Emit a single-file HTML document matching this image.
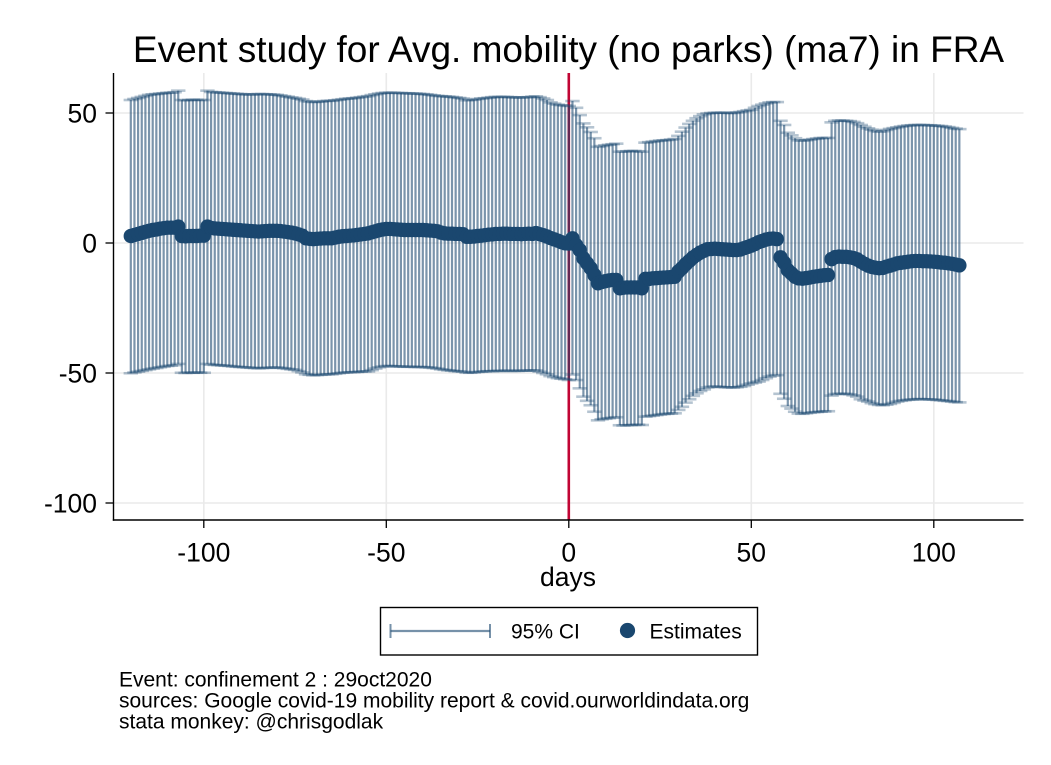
<!DOCTYPE html>
<html lang="en">
<head>
<meta charset="utf-8">
<title>Event study for Avg. mobility (no parks) (ma7) in FRA</title>
<style>
html,body{margin:0;padding:0;background:#fff;width:1051px;height:765px;overflow:hidden}
svg{display:block;font-family:"Liberation Sans",Arial,sans-serif}
text{fill:#000}
</style>
</head>
<body>
<svg id="chart" xmlns="http://www.w3.org/2000/svg" width="1051" height="765" viewBox="0 0 1051 765">
  <rect x="0" y="0" width="1051" height="765" fill="#fff"/>
  <text x="568.5" y="62" text-anchor="middle" font-size="37">Event study for Avg. mobility (no parks) (ma7) in FRA</text>
  <g id="grid"></g>
  <line id="eventLine" stroke="#c10534" stroke-width="2.6"></line>
  <g id="bars"></g>
  <g id="points"></g>
  <g id="axes"></g>
  <text x="568" y="586" text-anchor="middle" font-size="26.5">days</text>
  <g>
    <rect x="380.5" y="607.5" width="377" height="47.5" fill="#fff" stroke="#000" stroke-width="1.4"/>
    <g>
      <line x1="390.5" y1="631" x2="490" y2="631" stroke="#1a476f" stroke-opacity="0.6" stroke-width="2.2"/>
      <line x1="390.5" y1="624" x2="390.5" y2="638" stroke="#1a476f" stroke-opacity="0.6" stroke-width="2"/>
      <line x1="490" y1="624" x2="490" y2="638" stroke="#1a476f" stroke-opacity="0.6" stroke-width="2"/>
      <text x="511" y="638.5" font-size="21">95% CI</text>
    </g>
    <g>
      <circle cx="627.5" cy="630.5" r="7.6" fill="#1a476f"/>
      <text x="649.5" y="638.5" font-size="21">Estimates</text>
    </g>
  </g>
  <g font-size="21">
    <text x="119" y="686.5">Event: confinement 2 : 29oct2020</text>
    <text x="119" y="707.5">sources: Google covid-19 mobility report &amp; covid.ourworldindata.org</text>
    <text x="119" y="728.5">stata monkey: @chrisgodlak</text>
  </g>
</svg>
<script>
const days = [
-120,-119,-118,-117,-116,-115,-114,-113,-112,-111,-110,-109,-108,-107,
-106,-105,-104,-103,-102,-101,-100,
-99,-98,-97,-96,-95,-94,-93,-92,-91,-90,
-89,-88,-87,-86,-85,-84,-83,-82,-81,-80,
-79,-78,-77,-76,-75,-74,-73,-72,-71,-70,
-69,-68,-67,-66,-65,-64,-63,-62,-61,-60,
-59,-58,-57,-56,-55,-54,-53,-52,-51,-50,
-49,-48,-47,-46,-45,-44,-43,-42,-41,-40,
-39,-38,-37,-36,-35,-34,-33,-32,-31,-30,
-29,-28,-27,-26,-25,-24,-23,-22,-21,-20,
-19,-18,-17,-16,-15,-14,-13,-12,-11,-10,
-9,-8,-7,-6,-5,-4,-3,-2,-1,0,
1,2,3,4,5,6,7,8,9,10,
11,12,13,14,15,16,17,18,19,20,
21,22,23,24,25,26,27,28,29,30,
31,32,33,34,35,36,37,38,39,40,
41,42,43,44,45,46,47,48,49,50,
51,52,53,54,55,56,57,
58,59,60,61,62,63,64,65,66,67,68,69,70,71,
72,73,74,75,76,77,78,79,80,
81,82,83,84,85,86,87,88,89,90,
91,92,93,94,95,96,97,98,99,100,
101,102,103,104,105,106,107];

const estimates = [
2.7,3.1,3.5,3.9,4.3,4.7,5.0,5.2,5.5,5.7,5.9,5.9,5.9,6.3,
2.7,2.6,2.7,2.7,2.7,2.8,2.8,
6.3,5.8,5.6,5.5,5.4,5.3,5.2,5.1,5.0,4.9,
4.8,4.7,4.6,4.5,4.4,4.5,4.6,4.7,4.7,4.7,
4.6,4.4,4.2,4.0,3.7,3.3,2.8,1.8,1.6,1.5,
1.6,1.7,1.8,1.8,1.8,2.1,2.4,2.6,2.7,2.8,
2.9,3.1,3.3,3.5,3.7,4.1,4.5,4.9,5.2,5.4,
5.4,5.3,5.2,5.1,5.0,5.0,5.0,5.0,5.0,5.0,
4.9,4.8,4.7,4.5,4.0,3.7,3.6,3.6,3.5,3.5,
3.4,2.4,2.4,2.5,2.7,2.8,3.0,3.2,3.3,3.5,
3.5,3.6,3.6,3.5,3.5,3.5,3.4,3.5,3.6,3.5,
3.8,3.4,3.0,2.5,1.9,1.4,0.9,0.3,-0.1,-0.2,
1.8,-0.8,-2.7,-5.9,-7.8,-9.7,-12.3,-15.5,-15,-14.7,
-14.4,-14.2,-14.2,-17.4,-17.2,-17.1,-17.1,-17.1,-17.1,-17.4,
-13.8,-13.8,-13.6,-13.5,-13.4,-13.3,-13.2,-13.1,-13,-11,
-9.7,-8.2,-6.9,-5.6,-4.6,-3.7,-3,-2.4,-2.3,-2.2,
-2.3,-2.4,-2.5,-2.6,-2.7,-2.7,-2.5,-2,-1.5,-1,
-0.4,0.3,0.8,1.3,1.6,1.7,1.5,
-5.5,-7.6,-10.4,-11.7,-13,-13.6,-13.7,-13.5,-13.3,-13,-12.8,-12.6,-12.4,-12.3,
-6.2,-5.4,-5.2,-5.3,-5.3,-5.5,-5.8,-6.3,-7.2,
-8,-8.7,-9.2,-9.5,-9.7,-9.6,-9.1,-8.7,-8.3,-7.8,
-7.6,-7.4,-7.2,-7,-6.9,-6.9,-7,-7,-7.1,-7.2,
-7.3,-7.5,-7.6,-7.8,-8,-8.3,-8.6];

const ciUpper = [
55,55.4,55.8,56.2,56.6,57,57.2,57.3,57.5,57.6,57.8,57.8,58,58.6,
55,54.9,55,55.1,55.1,55,55,
58.6,58.1,58,57.9,57.8,57.7,57.6,57.5,57.4,57.3,
57.2,57.2,57.1,57.2,57.3,57.3,57.2,57.2,57.1,57,
56.8,56.5,56.3,56,55.8,55.5,55.2,54.6,54.4,54.2,
54.3,54.4,54.6,54.7,54.7,54.9,55.1,55.3,55.5,55.6,
55.7,55.9,56.1,56.3,56.5,56.9,57.2,57.5,57.7,57.8,
57.8,57.8,57.7,57.7,57.6,57.6,57.5,57.5,57.4,57.3,
57.2,57,56.8,56.6,56.5,56.4,56.3,56.2,56,55.8,
55.6,54.9,55,55.1,55.4,55.6,55.7,55.9,56.1,56.2,
56.2,56.2,56.2,56.1,56,56,56,56,56.1,56.3,
56.4,56.1,55.6,55,54.1,53.6,53.2,53,52.9,52.7,
54.6,52,49.2,46,44.5,42.7,40.3,37,37.3,37.6,
37.8,38,38.2,35.1,35.2,35.3,35.4,35.4,35.3,35.1,
38.6,38.8,39,39.2,39.4,39.5,39.6,39.8,40,41.2,
42.8,44.4,45.8,47,48,48.8,49.5,49.9,50,50.1,
50.1,50.1,50.1,50,50,50.2,50.4,50.7,51,51.2,
52,52.7,53.2,53.7,54.1,54.2,54.2,
47,45.4,42.4,41.4,40.3,39.5,39.4,39.5,39.8,40,40.2,40.4,40.4,40.4,
46.4,47,47.1,47.1,47,46.9,46.6,46.1,45.4,
44.7,44.1,43.6,43.1,42.8,43,43.5,43.9,44.2,44.5,
44.8,45,45.2,45.3,45.4,45.4,45.4,45.3,45.3,45.2,
45.1,45,44.8,44.6,44.3,44,43.8];

const ciLower = [
-50.1,-49.8,-49.5,-49.2,-48.9,-48.6,-48.3,-48.1,-47.8,-47.6,-47.3,-47.2,-47,-46.5,
-49.9,-50,-49.9,-49.9,-49.8,-49.9,-49.9,
-46.5,-46.8,-46.9,-47,-47.1,-47.2,-47.3,-47.5,-47.6,-47.7,
-47.8,-47.9,-48,-48.1,-48.2,-48.1,-48,-48,-47.9,-47.9,
-48,-48.2,-48.4,-48.6,-48.8,-49.3,-49.8,-50.5,-50.7,-50.9,
-50.8,-50.7,-50.6,-50.5,-50.5,-50.3,-50.1,-49.9,-49.8,-49.7,
-49.7,-49.6,-49.5,-49.4,-49.4,-48.9,-48.3,-47.8,-47.5,-47.3,
-47.3,-47.4,-47.5,-47.5,-47.6,-47.6,-47.6,-47.7,-47.7,-47.7,
-47.8,-47.9,-48.1,-48.3,-48.6,-48.8,-49,-49.1,-49.3,-49.4,
-49.5,-49.9,-49.9,-49.8,-49.6,-49.5,-49.4,-49.3,-49.3,-49.2,
-49.2,-49.2,-49.1,-49.2,-49.2,-49.2,-49.1,-49.1,-49.1,-49,
-49,-49.5,-50,-50.5,-51.2,-51.6,-52,-52.2,-52.4,-52.7,
-50.6,-52.7,-55.9,-59.1,-60.7,-62.4,-64.9,-68.2,-67.8,-67.6,
-67.4,-67.2,-67,-70.1,-70.2,-70.1,-70,-70,-69.9,-70,
-66.8,-66.6,-66.4,-66.2,-66,-65.8,-65.7,-65.6,-65.5,-64.2,
-63,-61.4,-60.1,-58.8,-57.8,-56.9,-56.3,-55.6,-55.3,-55.2,
-55.3,-55.4,-55.5,-55.5,-55.6,-55.5,-55.3,-55,-54.5,-54,
-53.7,-53.3,-52.7,-52,-51.4,-51,-50.8,
-58,-59.9,-62.7,-63.7,-64.9,-65.6,-65.7,-65.5,-65.3,-65.1,-65,-64.9,-64.8,-64.7,
-58.7,-58.1,-58,-58,-58,-58.2,-58.6,-59.1,-60.1,
-60.6,-61,-61.6,-62,-62.3,-62.4,-62.2,-61.9,-61.5,-61,
-60.7,-60.5,-60.3,-60.2,-60.1,-60,-60.1,-60.1,-60.2,-60.2,
-60.4,-60.5,-60.7,-60.8,-61,-61.2,-61.3];

const xTicks = [-100,-50,0,50,100];
const yTicks = [50,0,-50,-100];
const eventDay = 0;

const NS = 'http://www.w3.org/2000/svg';
const xScale = function (d) { return 568.8 + d * 3.65; };
const yScale = function (v) { return 243 - v * 2.6; };
const plotLeft = 113.5, plotRight = 1023.5, plotTop = 73, plotBottom = 520;

function make(tag, attrs, parent) {
  const el = document.createElementNS(NS, tag);
  for (const k in attrs) el.setAttribute(k, attrs[k]);
  parent.appendChild(el);
  return el;
}

const grid = document.getElementById('grid');
const axes = document.getElementById('axes');
const bars = document.getElementById('bars');
const points = document.getElementById('points');

xTicks.forEach(function (t) {
  const g = make('line', {x1: xScale(t), x2: xScale(t), y1: plotTop, y2: plotBottom, stroke: '#eaeaea', 'stroke-width': 1.6}, grid);
  
  
  const tick = make('line', {x1: xScale(t), x2: xScale(t), y1: plotBottom, y2: plotBottom + 8, stroke: '#000', 'stroke-width': 1.3}, axes);
  
  
  const lab = make('text', {x: xScale(t), y: 561.5, 'text-anchor': 'middle', 'font-size': 26.5}, axes);
  
  
  lab.textContent = String(t);
});

yTicks.forEach(function (t) {
  const g = make('line', {x1: plotLeft, x2: plotRight, y1: yScale(t), y2: yScale(t), stroke: '#eaeaea', 'stroke-width': 1.6}, grid);
  
  
  const tick = make('line', {x1: plotLeft - 8, x2: plotLeft, y1: yScale(t), y2: yScale(t), stroke: '#000', 'stroke-width': 1.3}, axes);
  
  
  const lab = make('text', {x: 97, y: yScale(t) + 9.5, 'text-anchor': 'end', 'font-size': 26.5}, axes);
  
  
  lab.textContent = String(t);
});

const yAxis = make('line', {x1: plotLeft, x2: plotLeft, y1: plotTop, y2: plotBottom + 0.7, stroke: '#000', 'stroke-width': 1.4}, axes);


const xAxis = make('line', {x1: plotLeft - 0.7, x2: plotRight, y1: plotBottom, y2: plotBottom, stroke: '#000', 'stroke-width': 1.4}, axes);



const ev = document.getElementById('eventLine');
ev.setAttribute('x1', xScale(eventDay));
ev.setAttribute('x2', xScale(eventDay));
ev.setAttribute('y1', plotTop);
ev.setAttribute('y2', plotBottom);

const capHalf = 7.2;
const stemStyle = {stroke: '#1a476f', 'stroke-opacity': 0.58, 'stroke-width': 2.2};
const capStyle = {stroke: '#1a476f', 'stroke-opacity': 0.32, 'stroke-width': 2.6};
days.forEach(function (d, i) {
  const x = xScale(d);
  const yu = yScale(ciUpper[i]);
  const yl = yScale(ciLower[i]);
  const stem = make('line', Object.assign({x1: x, x2: x, y1: yu, y2: yl}, stemStyle), bars);
  
  
  const capU = make('line', Object.assign({x1: x - capHalf, x2: x + capHalf, y1: yu, y2: yu}, capStyle), bars);
  
  
  const capL = make('line', Object.assign({x1: x - capHalf, x2: x + capHalf, y1: yl, y2: yl}, capStyle), bars);
  
  
});

days.forEach(function (d, i) {
  const c = make('circle', {cx: xScale(d), cy: yScale(estimates[i]), r: 7.2, fill: '#1a476f'}, points);
  
  
});
</script>
</body>
</html>
